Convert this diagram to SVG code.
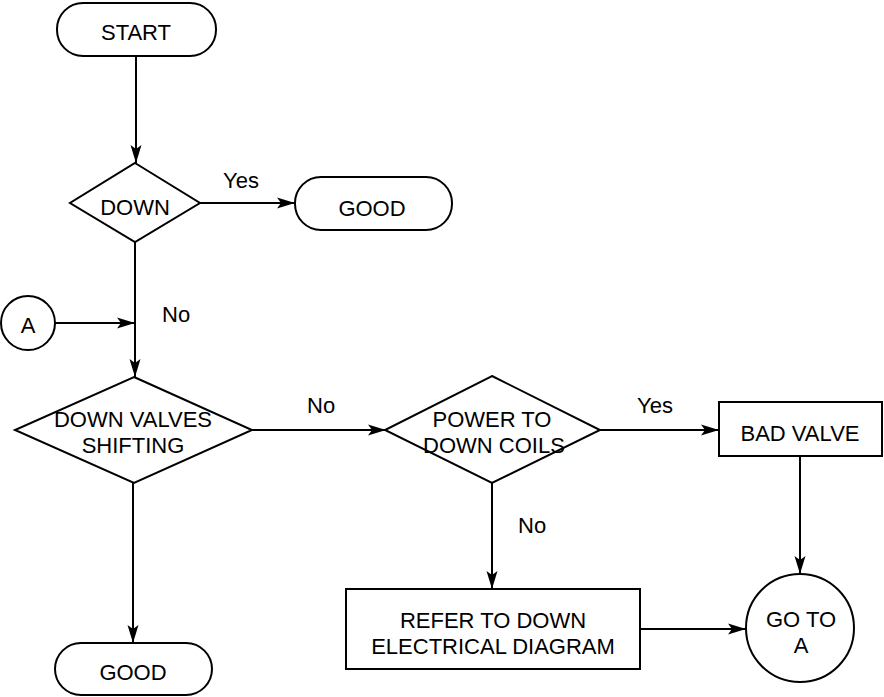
<svg xmlns="http://www.w3.org/2000/svg" width="884" height="697" viewBox="0 0 884 697">
<defs>
<marker id="arr" markerUnits="userSpaceOnUse" markerWidth="20" markerHeight="12" refX="18" refY="6" orient="auto">
<path d="M0,0.5 L18,6 L0,11.5 L4,6 Z" fill="#000"/>
</marker>
<style>
.s{fill:#fff;stroke:#000;stroke-width:2}
.c{fill:none;stroke:#000;stroke-width:2}
.t{font-family:"Liberation Sans",Arial,sans-serif;font-size:22px;fill:#000;text-anchor:middle}
.l{font-family:"Liberation Sans",Arial,sans-serif;font-size:22px;fill:#000}
.o{fill:none;stroke:#000;stroke-width:2}
</style>
</defs>
<rect width="884" height="697" fill="#fff"/>
<g id="connectors">
<line class="c" x1="136" y1="56" x2="136" y2="163" marker-end="url(#arr)"/>
<line class="c" x1="200" y1="203" x2="295" y2="203" marker-end="url(#arr)"/>
<line class="c" x1="135" y1="242" x2="135" y2="377" marker-end="url(#arr)"/>
<line class="c" x1="55" y1="323" x2="135" y2="323" marker-end="url(#arr)"/>
<line class="c" x1="252" y1="430" x2="386" y2="430" marker-end="url(#arr)"/>
<line class="c" x1="600" y1="430" x2="719" y2="430" marker-end="url(#arr)"/>
<line class="c" x1="492" y1="483" x2="492" y2="589" marker-end="url(#arr)"/>
<line class="c" x1="800" y1="456" x2="800" y2="574" marker-end="url(#arr)"/>
<line class="c" x1="640" y1="629" x2="746" y2="629" marker-end="url(#arr)"/>
<line class="c" x1="133" y1="483" x2="133" y2="643" marker-end="url(#arr)"/>
<text class="l" x="223" y="188">Yes</text>
<text class="l" x="162" y="322">No</text>
<text class="l" x="307" y="413">No</text>
<text class="l" x="637" y="413">Yes</text>
<text class="l" x="518" y="533">No</text>
</g>
<g id="start">
<rect class="s" x="57" y="3" width="159" height="53" rx="26" ry="26"/>
<text class="t" x="136" y="40">START</text>
</g>
<g id="down">
<polygon class="s" points="135,163 200,203 135,242 70,203"/>
<text class="t" x="135" y="215">DOWN</text>
</g>
<g id="good1">
<rect class="s" x="295" y="177" width="157" height="53" rx="26" ry="26"/>
<text class="t" x="372" y="216">GOOD</text>
</g>
<g id="a">
<circle class="s" cx="28" cy="323" r="27"/>
<text class="t" x="28" y="333">A</text>
</g>
<g id="valves">
<text class="t" x="133" y="427">DOWN VALVES</text>
<text class="t" x="133" y="453">SHIFTING</text>
<polygon class="o" points="134,377 252,430 134,483 15,430"/>
</g>
<g id="power">
<text class="t" x="492" y="427">POWER TO</text>
<text class="t" x="494" y="453">DOWN COILS</text>
<polygon class="o" points="492,376 600,430 492,483 385,430"/>
</g>
<g id="badvalve">
<rect class="s" x="719" y="402" width="163" height="54"/>
<text class="t" x="800" y="441">BAD VALVE</text>
</g>
<g id="refer">
<rect class="s" x="346" y="589" width="294" height="80"/>
<text class="t" x="493" y="628">REFER TO DOWN</text>
<text class="t" x="493" y="654">ELECTRICAL DIAGRAM</text>
</g>
<g id="gotoa">
<circle class="s" cx="800" cy="628" r="54"/>
<text class="t" x="801" y="627">GO TO</text>
<text class="t" x="801" y="653">A</text>
</g>
<g id="good2">
<rect class="s" x="55" y="643" width="157" height="52" rx="26" ry="26"/>
<text class="t" x="133" y="680">GOOD</text>
</g>
</svg>
